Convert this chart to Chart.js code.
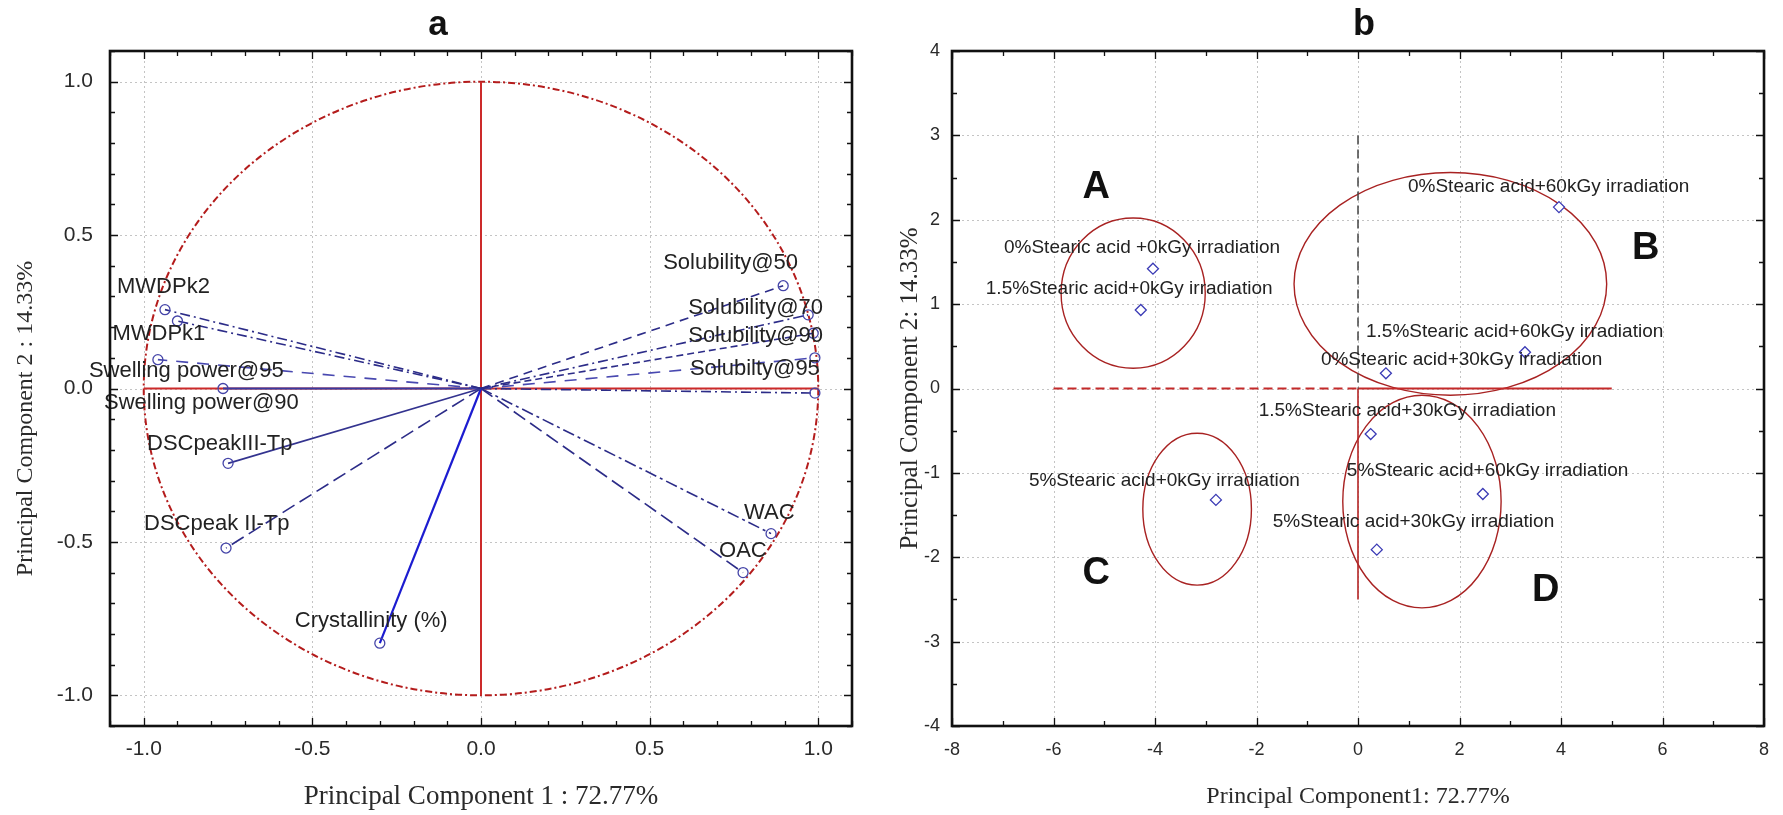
<!DOCTYPE html>
<html><head><meta charset="utf-8">
<script src="https://cdn.jsdelivr.net/npm/chart.js@4.4.1/dist/chart.umd.min.js"></script>
<style>
html,body{margin:0;padding:0;background:#fff;overflow:hidden;}
#ca{position:absolute;left:0;top:0;}
#cb{position:absolute;left:880px;top:0;}
</style></head><body>
<canvas id="ca" width="880" height="815"></canvas>
<canvas id="cb" width="903" height="815"></canvas>
<script>
// ---------- Panel a: variable loadings ----------
const varNames = ['MWDPk2','MWDPk1','Swelling power@95','Swelling power@90','DSCpeakIII-Tp','DSCpeak II-Tp','Crystallinity (%)','WAC','OAC','Solubility@50','Solubility@70','Solubility@90','Solubilty@95',''];
const pc1Loadings = [-0.937,-0.900,-0.958,-0.765,-0.750,-0.756,-0.300,0.860,0.777,0.896,0.970,0.985,0.990,0.990];
const pc2Loadings = [0.257,0.220,0.094,0.000,-0.244,-0.520,-0.830,-0.473,-0.600,0.335,0.240,0.180,0.100,-0.015];
const corrCircleRadius = 1;
const axisATicks = [-1.0,-0.5,0.0,0.5,1.0];

// ---------- Panel b: sample scores ----------
const sampleNames = ['0%Stearic acid +0kGy irradiation','1.5%Stearic acid+0kGy irradiation','0%Stearic acid+60kGy irradiation','1.5%Stearic acid+60kGy irradiation','0%Stearic acid+30kGy irradiation','1.5%Stearic acid+30kGy irradiation','5%Stearic acid+0kGy irradiation','5%Stearic acid+60kGy irradiation','5%Stearic acid+30kGy irradiation'];
const pc1Scores = [-4.04,-4.28,3.96,3.29,0.55,0.25,-2.80,2.46,0.37];
const pc2Scores = [1.42,0.93,2.15,0.43,0.18,-0.54,-1.32,-1.25,-1.91];
const groupNames = ['A','B','C','D'];
const groupCx = [-4.43,1.82,-3.17,1.26];
const groupCy = [1.13,1.24,-1.43,-1.34];
const groupRx = [1.42,3.08,1.07,1.56];
const groupRy = [0.89,1.32,0.90,1.26];
const groupLetterX = [-5.16,5.67,-5.16,3.70];
const groupLetterY = [2.38,1.66,-2.19,-2.40];
const axisBxTicks = [-8,-6,-4,-2,0,2,4,6,8];
const axisByTicks = [-4,-3,-2,-1,0,1,2,3,4];

// ---------- styles ----------
const SANS = "'Liberation Sans', Arial, Helvetica, sans-serif";
const SERIF = "'Liberation Serif', 'Times New Roman', Times, serif";
const vecColor = ['#2c2c88','#2c2c88','#4848b0','#3a3aa0','#33338f','#2c2c88','#1c1cd0','#2c2c88','#2c2c88','#2c2c88','#2c2c88','#2c2c88','#4848b0','#2c2c88'];
const vecDash = [[10,4,2,4],[10,4,2,4],[12,9],[],[],[14,6],[],[12,4,3,4],[14,6],[9,6],[10,4,2,4],[7,4],[12,9],[10,4,2,4]];
const vecWidth = [1.6,1.6,1.6,1.8,1.6,1.6,2.2,1.6,1.6,1.6,1.6,1.6,1.6,1.6];
const labADx = [-48,-65,-69,-119,-81,-82,-85,-27,-24,-120,-120,-125,-125,0];
const labADy = [-23,13,11,14,-19,-24,-22,-21,-22,-23,-7,3,11,0];
const labBDx = [-149,-155,-151,-159,-65,-112,-187,-136,-104];
const labBDy = [-21,-21,-20,-20,-14,-23,-19,-23,-28];

function gridAndFrame(chart, o, phase) {
  const {ctx, chartArea: a, scales: {x, y}} = chart;
  ctx.save();
  if (phase === 'grid') {
    ctx.strokeStyle = '#c4c4c4'; ctx.lineWidth = 1; ctx.setLineDash([2,3]);
    x.ticks.forEach(t => { const p = Math.round(x.getPixelForValue(t.value)) + 0.5; ctx.beginPath(); ctx.moveTo(p, a.top); ctx.lineTo(p, a.bottom); ctx.stroke(); });
    y.ticks.forEach(t => { const p = Math.round(y.getPixelForValue(t.value)) + 0.5; ctx.beginPath(); ctx.moveTo(a.left, p); ctx.lineTo(a.right, p); ctx.stroke(); });
  } else {
    ctx.setLineDash([]);
    ctx.strokeStyle = '#111'; ctx.lineWidth = 1.3;
    const mk = (scale, step, major, horiz) => {
      const n = Math.round((scale.max - scale.min) / step);
      for (let i = 0; i <= n; i++) {
        const v = scale.min + i * step;
        const isMaj = Math.abs(v / major - Math.round(v / major)) < 1e-6;
        const L = isMaj ? 8 : 5;
        const p = Math.round(scale.getPixelForValue(v)) + 0.5;
        ctx.beginPath();
        if (horiz) { ctx.moveTo(p, a.bottom); ctx.lineTo(p, a.bottom - L); ctx.moveTo(p, a.top); ctx.lineTo(p, a.top + L); }
        else { ctx.moveTo(a.left, p); ctx.lineTo(a.left + L, p); ctx.moveTo(a.right, p); ctx.lineTo(a.right - L, p); }
        ctx.stroke();
      }
    };
    mk(x, o.minorX, o.majorX, true);
    mk(y, o.minorY, o.majorY, false);
    ctx.strokeStyle = '#111'; ctx.lineWidth = 2.6;
    ctx.strokeRect(a.left, a.top, a.right - a.left, a.bottom - a.top);
    ctx.fillStyle = '#111'; ctx.font = 'bold ' + o.titleSize + 'px ' + SANS;
    ctx.textAlign = 'center'; ctx.textBaseline = 'alphabetic';
    ctx.fillText(o.title, o.titleX, 35);
  }
  ctx.restore();
}

// ---------- Chart a ----------
const pluginA = {
  id: 'panelA',
  beforeDatasetsDraw(chart) {
    gridAndFrame(chart, null, 'grid');
    const {ctx, scales: {x, y}} = chart;
    const cx = x.getPixelForValue(0), cy = y.getPixelForValue(0);
    const rx = x.getPixelForValue(corrCircleRadius) - cx, ry = cy - y.getPixelForValue(corrCircleRadius);
    ctx.save();
    ctx.strokeStyle = '#b41c1c'; ctx.lineWidth = 2; ctx.setLineDash([7,3,2,3]);
    ctx.beginPath(); ctx.ellipse(cx, cy, rx, ry, 0, 0, Math.PI * 2); ctx.stroke();
    ctx.restore();
  },
  afterDatasetsDraw(chart) {
    const {ctx, scales: {x, y}} = chart;
    ctx.save();
    ctx.fillStyle = '#222'; ctx.font = '22px ' + SANS; ctx.textAlign = 'left'; ctx.textBaseline = 'middle';
    varNames.forEach((n, i) => {
      if (!n) return;
      const px = x.getPixelForValue(pc1Loadings[i]), py = y.getPixelForValue(pc2Loadings[i]);
      ctx.fillText(n, px + labADx[i], py + labADy[i]);
    });
    ctx.restore();
    gridAndFrame(chart, {minorX: 0.1, majorX: 0.5, minorY: 0.1, majorY: 0.5, title: 'a', titleSize: 35, titleX: 438}, 'frame');
  }
};

const dsA = varNames.map((n, i) => ({
  label: n || 'var',
  data: [{x: 0, y: 0}, {x: pc1Loadings[i], y: pc2Loadings[i]}],
  showLine: true,
  borderColor: vecColor[i],
  borderWidth: vecWidth[i],
  borderDash: vecDash[i],
  pointRadius: [0, 5],
  pointStyle: 'circle',
  pointBorderColor: '#4444a8',
  pointBackgroundColor: 'rgba(255,255,255,0)',
  pointBorderWidth: 1.3
}));
dsA.push({label: 'h0', data: [{x: -corrCircleRadius, y: 0}, {x: corrCircleRadius, y: 0}], showLine: true, borderColor: '#cc2a2a', borderWidth: 2, pointRadius: 0});
dsA.push({label: 'v0', data: [{x: 0, y: -corrCircleRadius}, {x: 0, y: corrCircleRadius}], showLine: true, borderColor: '#cc2a2a', borderWidth: 2, pointRadius: 0});

new Chart(document.getElementById('ca'), {
  type: 'scatter',
  data: {datasets: dsA},
  options: {
    responsive: false, animation: false, devicePixelRatio: 1,
    layout: {padding: {top: 51, right: 28, bottom: 0, left: 0}},
    plugins: {legend: {display: false}, tooltip: {enabled: false}, title: {display: false}},
    scales: {
      x: {type: 'linear', min: -1.1, max: 1.1,
        afterBuildTicks: s => { s.ticks = axisATicks.map(v => ({value: v})); },
        ticks: {font: {family: SANS, size: 21}, color: '#2a2a2a', padding: 11, maxRotation: 0, autoSkip: false, callback: v => Number(v).toFixed(1)},
        grid: {display: false, drawTicks: false}, border: {display: false},
        title: {display: true, text: 'Principal Component 1 : 72.77%', font: {family: SERIF, size: 27}, color: '#2a2a2a', padding: {top: 0, bottom: 2}},
        afterFit: s => { s.height = 89; }
      },
      y: {type: 'linear', min: -1.1, max: 1.1,
        afterBuildTicks: s => { s.ticks = axisATicks.map(v => ({value: v})); },
        ticks: {font: {family: SANS, size: 21}, color: '#2a2a2a', padding: 17, autoSkip: false, callback: v => Number(v).toFixed(1)},
        grid: {display: false, drawTicks: false}, border: {display: false},
        title: {display: true, text: 'Principal Component 2 : 14.33%' + '\u00a0'.repeat(10), font: {family: SERIF, size: 24}, color: '#2a2a2a', padding: {top: 11, bottom: 0}},
        afterFit: s => { s.width = 110; }
      }
    }
  },
  plugins: [pluginA]
});

// ---------- Chart b ----------
const pluginB = {
  id: 'panelB',
  beforeDatasetsDraw(chart) {
    gridAndFrame(chart, null, 'grid');
    const {ctx, scales: {x, y}} = chart;
    ctx.save();
    ctx.strokeStyle = '#a82222'; ctx.lineWidth = 1.4;
    groupNames.forEach((g, i) => {
      const cx = x.getPixelForValue(groupCx[i]), cy = y.getPixelForValue(groupCy[i]);
      const rx = x.getPixelForValue(groupCx[i] + groupRx[i]) - cx;
      const ry = cy - y.getPixelForValue(groupCy[i] + groupRy[i]);
      ctx.beginPath(); ctx.ellipse(cx, cy, rx, ry, 0, 0, Math.PI * 2); ctx.stroke();
    });
    ctx.restore();
  },
  afterDatasetsDraw(chart) {
    const {ctx, scales: {x, y}} = chart;
    ctx.save();
    ctx.fillStyle = '#222'; ctx.font = '19px ' + SANS; ctx.textAlign = 'left'; ctx.textBaseline = 'middle';
    sampleNames.forEach((n, i) => {
      const px = x.getPixelForValue(pc1Scores[i]), py = y.getPixelForValue(pc2Scores[i]);
      ctx.fillText(n, px + labBDx[i], py + labBDy[i]);
    });
    ctx.fillStyle = '#111'; ctx.font = 'bold 38px ' + SANS; ctx.textAlign = 'center';
    groupNames.forEach((g, i) => {
      ctx.fillText(g, x.getPixelForValue(groupLetterX[i]), y.getPixelForValue(groupLetterY[i]));
    });
    ctx.restore();
    gridAndFrame(chart, {minorX: 1, majorX: 2, minorY: 0.5, majorY: 1, title: 'b', titleSize: 36, titleX: 484}, 'frame');
  }
};

const dsB = [{
  label: 'samples',
  data: pc1Scores.map((v, i) => ({x: v, y: pc2Scores[i]})),
  showLine: false,
  pointStyle: 'rectRot', pointRadius: 5.5,
  pointBorderColor: '#3a3ab5', pointBackgroundColor: '#ffffff', pointBorderWidth: 1.3
},
{label: 'v+', data: [{x: 0, y: 3}, {x: 0, y: 0}], showLine: true, borderColor: '#444', borderWidth: 1.5, borderDash: [9,5], pointRadius: 0},
{label: 'v-', data: [{x: 0, y: 0}, {x: 0, y: -2.5}], showLine: true, borderColor: '#b52525', borderWidth: 1.6, pointRadius: 0},
{label: 'h-', data: [{x: -6, y: 0}, {x: 0, y: 0}], showLine: true, borderColor: '#c42a2a', borderWidth: 2, borderDash: [9,5], pointRadius: 0},
{label: 'h+', data: [{x: 0, y: 0}, {x: 5, y: 0}], showLine: true, borderColor: '#c42a2a', borderWidth: 2, pointRadius: 0}];

new Chart(document.getElementById('cb'), {
  type: 'scatter',
  data: {datasets: dsB},
  options: {
    responsive: false, animation: false, devicePixelRatio: 1,
    layout: {padding: {top: 51, right: 19, bottom: 0, left: 0}},
    plugins: {legend: {display: false}, tooltip: {enabled: false}, title: {display: false}},
    scales: {
      x: {type: 'linear', min: -8, max: 8,
        afterBuildTicks: s => { s.ticks = axisBxTicks.map(v => ({value: v})); },
        ticks: {font: {family: SANS, size: 18}, color: '#2a2a2a', padding: 13, maxRotation: 0, autoSkip: false},
        grid: {display: false, drawTicks: false}, border: {display: false},
        title: {display: true, text: 'Principal Component1: 72.77%', font: {family: SERIF, size: 24}, color: '#2a2a2a', padding: {top: 0, bottom: 4}},
        afterFit: s => { s.height = 89; }
      },
      y: {type: 'linear', min: -4, max: 4,
        afterBuildTicks: s => { s.ticks = axisByTicks.map(v => ({value: v})); },
        ticks: {font: {family: SANS, size: 18}, color: '#2a2a2a', padding: 12, autoSkip: false},
        grid: {display: false, drawTicks: false}, border: {display: false},
        title: {display: true, text: 'Principal Component 2: 14.33%', font: {family: SERIF, size: 25}, color: '#2a2a2a', padding: {top: 15, bottom: 0}},
        afterFit: s => { s.width = 72; }
      }
    }
  },
  plugins: [pluginB]
});
</script>
</body></html>
